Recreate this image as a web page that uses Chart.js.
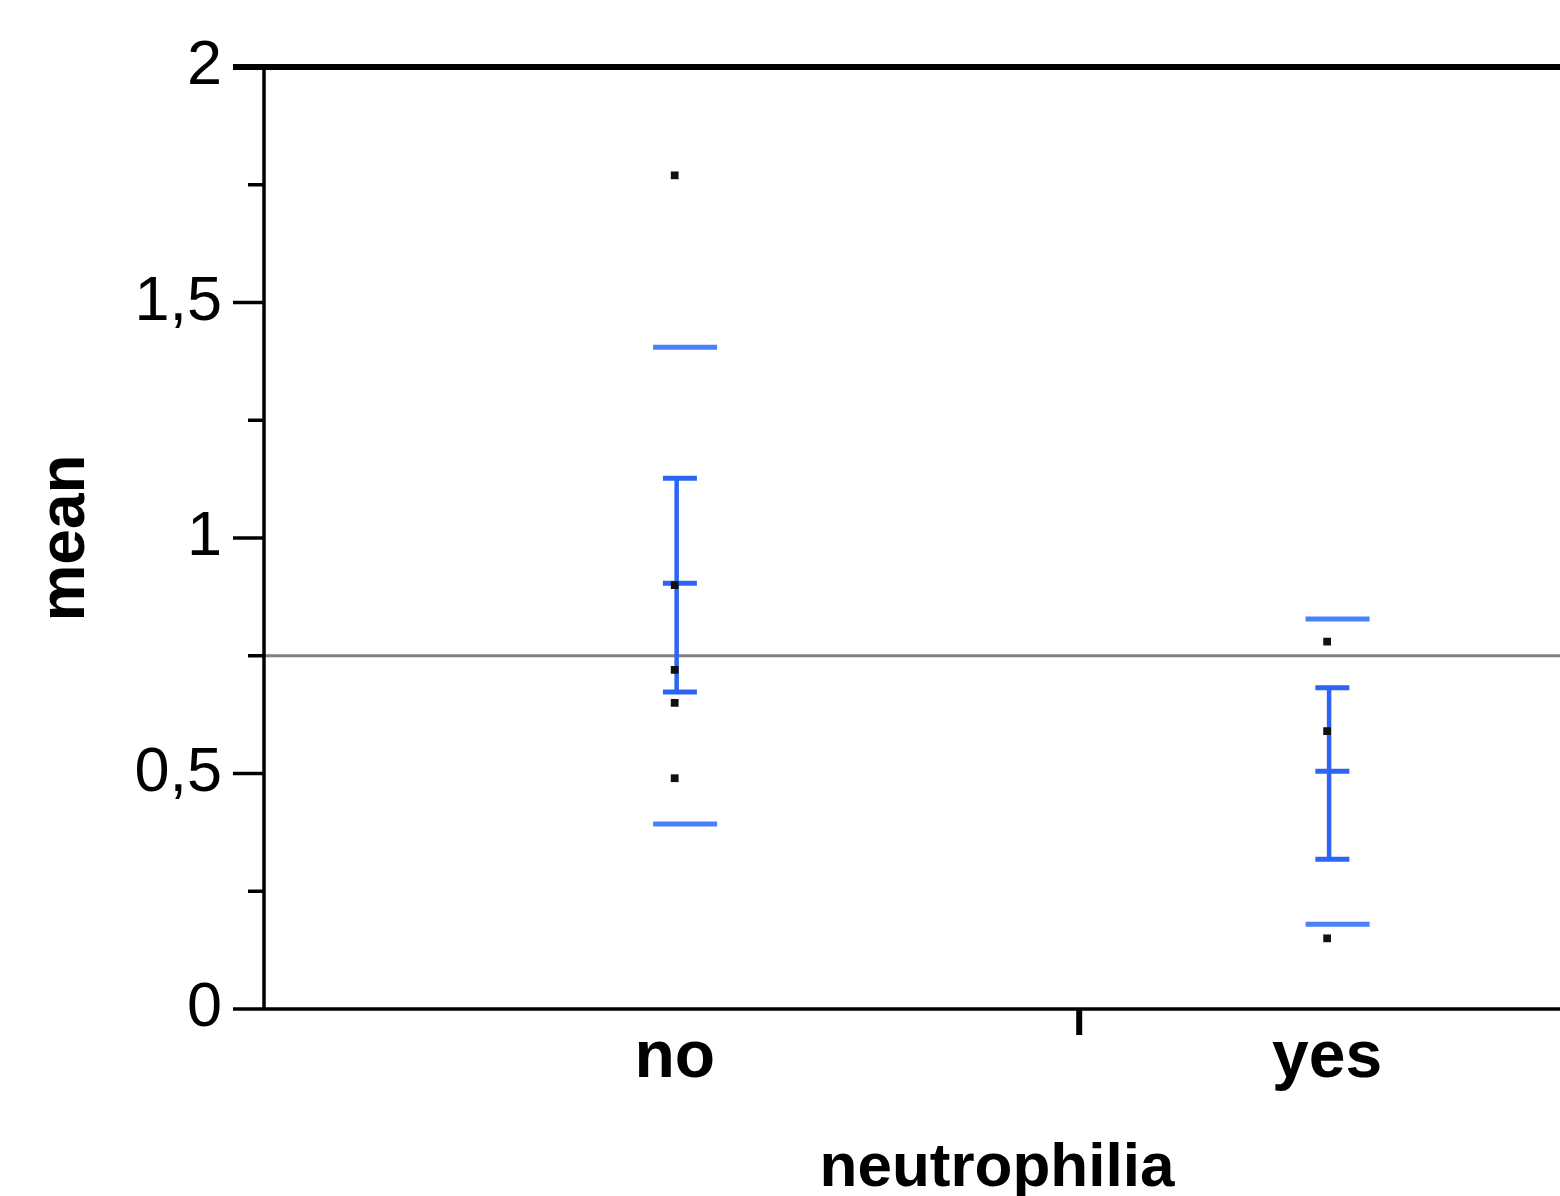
<!DOCTYPE html>
<html>
<head>
<meta charset="utf-8">
<script src="https://cdn.jsdelivr.net/npm/chart.js@4.4.0/dist/chart.umd.min.js"></script>
<style>
  html, body { margin: 0; padding: 0; background: #fff; overflow: hidden; }
  #wrap { width: 1560px; height: 1196px; overflow: hidden; }
  canvas { display: block; }
</style>
</head>
<body>
<div id="wrap"><canvas id="chart" width="1768" height="1196"></canvas></div>
<script>
// Categories on the x axis
const categories = ['no', 'yes'];

// Individual observations per group
const noValues = [1.77, 0.90, 0.72, 0.65, 0.49];
const yesValues = [0.78, 0.59, 0.15];

// Group means
const groupMeans = [0.904, 0.505];

// Error bar (mean +/- SE) ends
const errLower = [0.673, 0.318];
const errUpper = [1.127, 0.682];

// Outer lines (mean +/- SD)
const sdLower = [0.393, 0.180];
const sdUpper = [1.405, 0.828];

// Grand mean reference line
const grandMean = 0.75;

// Axis ticks
const yMajorTicks = [0, 0.5, 1, 1.5, 2];
const yMinorTicks = [0.25, 0.75, 1.25, 1.75];
const xDivider = 0.62;

// x range of the plot frame
const xMin = -0.631;
const xMax = 1.619;

const blueBar = '#2c64f5';
const blueSd = '#4a80fa';

const toPts = (vals, i) => vals.map(v => ({ x: i, y: v }));

const datasets = [];

// raw points
datasets.push({
    type: 'scatter',
    data: [...toPts(noValues, 0), ...toPts(yesValues, 1)],
    pointBackgroundColor: '#111',
    pointBorderWidth: 0,
    pointStyle: 'rect',
    pointRadius: 5.5,
    order: 0
});

// whiskers
categories.forEach((c, i) => {
    datasets.push({
        type: 'line',
        data: [{ x: i + 0.003, y: errLower[i] }, { x: i + 0.003, y: errUpper[i] }],
        borderColor: blueBar,
        borderWidth: 4.5,
        pointRadius: 0,
        order: 2
    });
});

// caps and mean ticks
datasets.push({
    type: 'scatter',
    data: categories.flatMap((c, i) => [
        { x: i + 0.008, y: errLower[i] },
        { x: i + 0.008, y: errUpper[i] },
        { x: i + 0.008, y: groupMeans[i] }
    ]),
    pointStyle: 'line',
    pointRadius: 17,
    pointBorderColor: blueBar,
    pointBorderWidth: 5,
    order: 1
});

// SD lines
datasets.push({
    type: 'scatter',
    data: categories.flatMap((c, i) => [
        { x: i + 0.016, y: sdLower[i] },
        { x: i + 0.016, y: sdUpper[i] }
    ]),
    pointStyle: 'line',
    pointRadius: 32,
    pointBorderColor: blueSd,
    pointBorderWidth: 5,
    order: 1
});

// grand mean
datasets.push({
    type: 'line',
    data: [{ x: xMin, y: grandMean }, { x: xMax, y: grandMean }],
    borderColor: '#808080',
    borderWidth: 3,
    pointRadius: 0,
    order: 5
});

// frame, tick marks, divider
const frame = {
    id: 'frame',
    afterDraw(chart) {
        const { ctx, chartArea: a, scales: { x, y } } = chart;
        const right = chart.width;
        ctx.save();
        ctx.strokeStyle = '#000';
        ctx.lineCap = 'butt';

        // left axis
        ctx.lineWidth = 3.5;
        ctx.beginPath();
        ctx.moveTo(a.left + 1, a.top);
        ctx.lineTo(a.left + 1, a.bottom);
        ctx.stroke();

        // major ticks
        yMajorTicks.forEach(v => {
            const py = y.getPixelForValue(v);
            ctx.lineWidth = v === 2 ? 6 : 3.5;
            ctx.beginPath();
            ctx.moveTo(a.left - 30, py);
            ctx.lineTo(v === 2 || v === 0 ? right : a.left, py);
            ctx.stroke();
        });

        // minor ticks
        ctx.lineWidth = 3.5;
        yMinorTicks.forEach(v => {
            const py = y.getPixelForValue(v);
            ctx.beginPath();
            ctx.moveTo(a.left - 15, py);
            ctx.lineTo(a.left, py);
            ctx.stroke();
        });

        // category divider
        const px = x.getPixelForValue(xDivider);
        ctx.lineWidth = 6;
        ctx.beginPath();
        ctx.moveTo(px, a.bottom);
        ctx.lineTo(px, a.bottom + 26);
        ctx.stroke();
        ctx.restore();
    }
};

new Chart(document.getElementById('chart'), {
    data: { datasets },
    options: {
        responsive: false,
        animation: false,
        events: [],
        layout: { padding: { top: 67, left: 0, right: 0, bottom: 0 } },
        plugins: { legend: { display: false }, tooltip: { enabled: false } },
        scales: {
            x: {
                type: 'linear',
                min: xMin,
                max: xMax,
                grid: { display: false, drawTicks: false },
                border: { display: false },
                afterBuildTicks: s => { s.ticks = categories.map((c, i) => ({ value: i })); },
                afterFit: s => { s.height = 187; },
                ticks: {
                    autoSkip: false,
                    maxRotation: 0,
                    padding: 17,
                    color: '#000',
                    font: { family: 'Liberation Sans, Arial, sans-serif', size: 66, weight: 'bold', lineHeight: 1 },
                    callback: v => categories[v] ?? ''
                },
                title: {
                    display: true,
                    text: 'neutrophilia',
                    color: '#000',
                    padding: { top: 0, bottom: -4 },
                    font: { family: 'Liberation Sans, Arial, sans-serif', size: 62, weight: 'bold', lineHeight: 1 }
                }
            },
            y: {
                min: 0,
                max: 2,
                grid: { display: false, drawTicks: false },
                border: { display: false },
                afterFit: s => { s.width = 263; s.paddingTop = 0; s.paddingBottom = 0; },
                ticks: {
                    stepSize: 0.5,
                    padding: 41,
                    color: '#000',
                    font: { family: 'Liberation Sans, Arial, sans-serif', size: 63, lineHeight: 1 },
                    callback: v => String(v).replace('.', ',')
                },
                title: {
                    display: true,
                    text: 'mean',
                    color: '#000',
                    padding: { top: 34, bottom: 0 },
                    font: { family: 'Liberation Sans, Arial, sans-serif', size: 64, weight: 'bold', lineHeight: 1 }
                }
            }
        }
    },
    plugins: [frame]
});
</script>
</body>
</html>
